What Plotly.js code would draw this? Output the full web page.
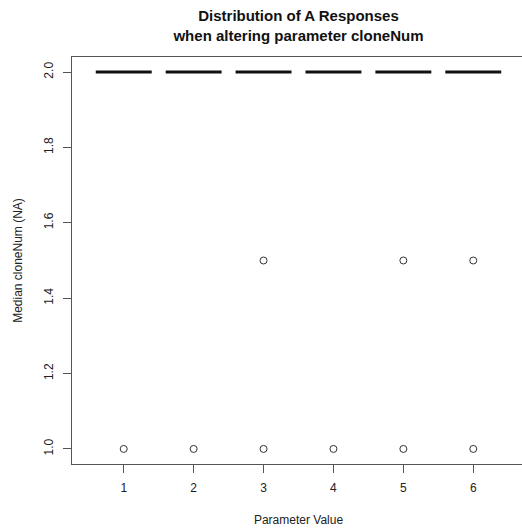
<!DOCTYPE html>
<html>
<head>
<meta charset="utf-8">
<script src="https://cdn.plot.ly/plotly-3.0.1.min.js"></script>
<style>
  html, body { margin: 0; padding: 0; background: #ffffff; overflow: hidden; }
  #chart { width: 525px; height: 530px; }
</style>
</head>
<body>
<div id="chart"></div>
<script>
// Parameter values on the x axis
const paramValues = [1, 2, 3, 4, 5, 6];

// Box statistics of the median cloneNum response per parameter value
const q1Values     = [2.0, 2.0, 2.0, 2.0, 2.0, 2.0];
const medianValues = [2.0, 2.0, 2.0, 2.0, 2.0, 2.0];
const q3Values     = [2.0, 2.0, 2.0, 2.0, 2.0, 2.0];
const lowerFences  = [2.0, 2.0, 2.0, 2.0, 2.0, 2.0];
const upperFences  = [2.0, 2.0, 2.0, 2.0, 2.0, 2.0];

// Outlying responses: parameter value and response
const outlierParams = [1, 2, 3, 3, 4, 5, 5, 6, 6];
const outlierValues = [1.0, 1.0, 1.5, 1.0, 1.0, 1.5, 1.0, 1.5, 1.0];

// Axis ticks
const yTickValues = [1.0, 1.2, 1.4, 1.6, 1.8, 2.0];
const yTickLabels = ['1.0', '1.2', '1.4', '1.6', '1.8', '2.0'];

const fontFamily = 'Liberation Sans, Arial, Helvetica, sans-serif';

const boxTrace = {
  type: 'box',
  x: paramValues,
  q1: q1Values,
  median: medianValues,
  q3: q3Values,
  lowerfence: lowerFences,
  upperfence: upperFences,
  width: 0.8,
  whiskerwidth: 0,
  boxpoints: false,
  line: { color: '#111111', width: 3 },
  fillcolor: 'rgba(0,0,0,0)',
  hoverinfo: 'skip',
  showlegend: false
};

const outlierTrace = {
  type: 'scatter',
  mode: 'markers',
  x: outlierParams,
  y: outlierValues,
  marker: {
    symbol: 'circle-open',
    size: 7,
    color: '#333333',
    line: { width: 1, color: '#333333' }
  },
  hoverinfo: 'skip',
  showlegend: false
};

const layout = {
  width: 525,
  height: 530,
  margin: { l: 72, r: 0, t: 57, b: 66, pad: 0 },
  paper_bgcolor: '#ffffff',
  plot_bgcolor: '#ffffff',
  font: { family: fontFamily, size: 12, color: '#222222' },
  title: {
    text: '<b>Distribution of A Responses<br>when altering parameter cloneNum</b>',
    font: { family: fontFamily, size: 15, color: '#111111' },
    x: 0.5,
    xref: 'paper',
    xanchor: 'center',
    y: 1 - 21 / 530,
    yref: 'container',
    yanchor: 'top'
  },
  xaxis: {
    range: [0.26, 6.74],
    tickmode: 'array',
    tickvals: paramValues,
    ticktext: paramValues.map(String),
    ticks: 'outside',
    ticklen: 8,
    tickcolor: '#555555',
    tickwidth: 1,
    ticklabelstandoff: 5,
    tickfont: { size: 12, color: '#222222' },
    showgrid: false,
    zeroline: false,
    showline: true,
    mirror: true,
    linecolor: '#555555',
    linewidth: 1,
    title: { text: 'Parameter Value', font: { size: 12, color: '#222222' }, standoff: 21 }
  },
  yaxis: {
    range: [0.96, 2.04],
    tickmode: 'array',
    tickvals: yTickValues,
    ticktext: yTickLabels,
    tickangle: -90,
    ticks: 'outside',
    ticklen: 8,
    tickcolor: '#555555',
    tickwidth: 1,
    ticklabelstandoff: 5,
    tickfont: { size: 12, color: '#222222' },
    showgrid: false,
    zeroline: false,
    showline: true,
    mirror: true,
    linecolor: '#555555',
    linewidth: 1,
    title: { text: 'Median cloneNum (NA)', font: { size: 12, color: '#222222' }, standoff: 17 }
  }
};

Plotly.newPlot('chart', [boxTrace, outlierTrace], layout, { displayModeBar: false, staticPlot: true });
</script>
</body>
</html>
